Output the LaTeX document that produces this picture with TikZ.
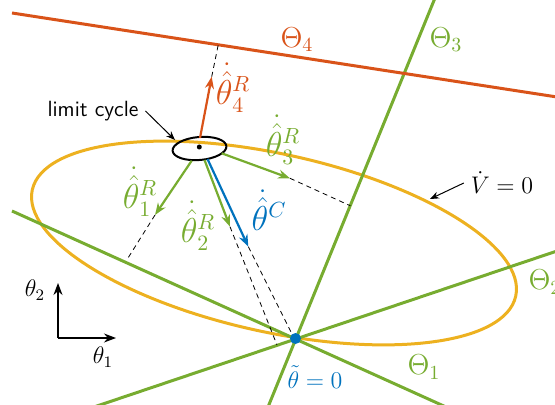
\documentclass[tikz,border=0pt]{standalone}
\usepackage{amsmath}
\usepackage{amssymb}
\usepackage{tikz}
\usetikzlibrary{arrows.meta}
\definecolor{morange}{RGB}{217,83,25}
\definecolor{myellow}{RGB}{237,177,32}
\definecolor{mgreen}{RGB}{119,172,48}
\definecolor{mblue}{RGB}{0,114,189}

\begin{document}
\begin{tikzpicture}[x=0.5pt,y=-0.5pt,
    >={Stealth[length=6pt,width=4.5pt]},
    setline/.style={line width=1.5pt},
    proj/.style={dash pattern=on 2.5pt off 2pt,line width=0.4pt},
    vec/.style={->,line width=1.1pt},
    biglab/.style={font=\fontsize{16}{18}\selectfont},
    setlab/.style={font=\fontsize{14.4}{17}\selectfont},
    smalllab/.style={font=\fontsize{11.5}{14}\selectfont}]
    \useasboundingbox (0,0) rectangle (555,405);
    % level set of V
    \draw [myellow,setline,rotate around={-12.4:(274,243)}] (274,243) ellipse [x radius=247.5, y radius=89];
    % the sets Theta_i
    \coordinate (T1a) at (12,211);
    \coordinate (T1b) at (446,407);
    \coordinate (T2a) at (94,407);
    \coordinate (T2b) at (557,251);
    \coordinate (T3a) at (268,407);
    \coordinate (T3b) at (435,-2);
    \coordinate (T4a) at (12,13);
    \coordinate (T4b) at (557,97);
    \draw [mgreen,setline] (T1a)--(T1b);
    \draw [mgreen,setline] (T2a)--(T2b);
    \draw [mgreen,setline] (T3a)--(T3b);
    \draw [morange,setline] (T4a)--(T4b);
    \node [setlab,text=mgreen] (L1) at (424,367) {$\Theta_1$};
    \node [setlab,text=mgreen] (L2) at (545,282) {$\Theta_2$};
    \node [setlab,text=mgreen] (L3) at (446,40) {$\Theta_3$};
    \node [setlab,text=morange] (L4) at (297,40) {$\Theta_4$};
    % limit cycle
    \draw [line width=1pt,rotate around={5:(199.5,148.5)}] (199.5,148.5) ellipse [x radius=27, y radius=11.5];
    \node [circle,fill=black,inner sep=0pt,minimum size=2.5pt] (c0) at (199.3,147) {};
    \node [smalllab,font=\sffamily\fontsize{11}{13}\selectfont] (lc) at (93,111) {limit cycle};
    \coordinate (lcp) at (175,140);
    \draw [-{Stealth[length=4.5pt,width=3.5pt]},line width=0.5pt] (lc.east)--(lcp);
    % vectors
    \coordinate (s1) at (191.7,160.7);
    \coordinate (e1) at (155,215);
    \coordinate (f1) at (128,258);
    \coordinate (s2) at (204.5,160);
    \coordinate (e2) at (230,226.7);
    \coordinate (f2) at (277,345);
    \coordinate (s3) at (221.7,153.3);
    \coordinate (e3) at (290,178.3);
    \coordinate (f3) at (350.4,205.8);
    \coordinate (s4) at (200,138);
    \coordinate (e4) at (211.7,76.7);
    \coordinate (f4) at (218.3,44.5);
    \coordinate (sc) at (207.5,159);
    \coordinate (ec) at (248.3,246.7);
    \coordinate (fc) at (292,334);
    \draw [proj] (e1)--(f1);
    \draw [proj] (e2)--(f2);
    \draw [proj] (e3)--(f3);
    \draw [proj] (e4)--(f4);
    \draw [proj] (ec)--(fc);
    \draw [vec,mgreen] (s1)--(e1);
    \draw [vec,mgreen] (s2)--(e2);
    \draw [vec,mgreen] (s3)--(e3);
    \draw [vec,morange] (s4)--(e4);
    \draw [vec,mblue] (sc)--(ec);
    \node [biglab,text=mgreen] (v1) at (140,192) {$\dot{\hat{\theta}}{}_1^R$};
    \node [biglab,text=mgreen] (v2) at (198,226) {$\dot{\hat{\theta}}{}_2^R$};
    \node [biglab,text=mgreen] (v3) at (283,140) {$\dot{\hat{\theta}}{}_3^R$};
    \node [biglab,text=morange] (v4) at (233,88) {$\dot{\hat{\theta}}{}_4^R$};
    \node [biglab,text=mblue] (vc) at (269,210) {$\dot{\hat{\theta}}{}^C$};
    % equilibrium
    \node [circle,fill=mblue,inner sep=0pt,minimum size=5.5pt] (eq) at (295.5,338.5) {};
    \node [font=\fontsize{12}{14}\selectfont,text=mblue] (eqlab) at (315,377) {$\tilde{\theta}=0$};
    % Vdot = 0
    \node [font=\fontsize{12}{14}\selectfont] (vd) at (502,183) {$\dot{V}=0$};
    \coordinate (vdp) at (430,199);
    \draw [-{Stealth[length=4.5pt,width=3.5pt]},line width=0.5pt] (vd.west)--(vdp);
    % axes
    \coordinate (o) at (58,338);
    \coordinate (ax1) at (116,338);
    \coordinate (ax2) at (58,283);
    \draw [->,line width=0.6pt] (o)--(ax1);
    \draw [->,line width=0.6pt] (o)--(ax2);
    \node [smalllab] (a1) at (103,357) {$\theta_1$};
    \node [smalllab] (a2) at (35,290) {$\theta_2$};
\end{tikzpicture}
\end{document}
